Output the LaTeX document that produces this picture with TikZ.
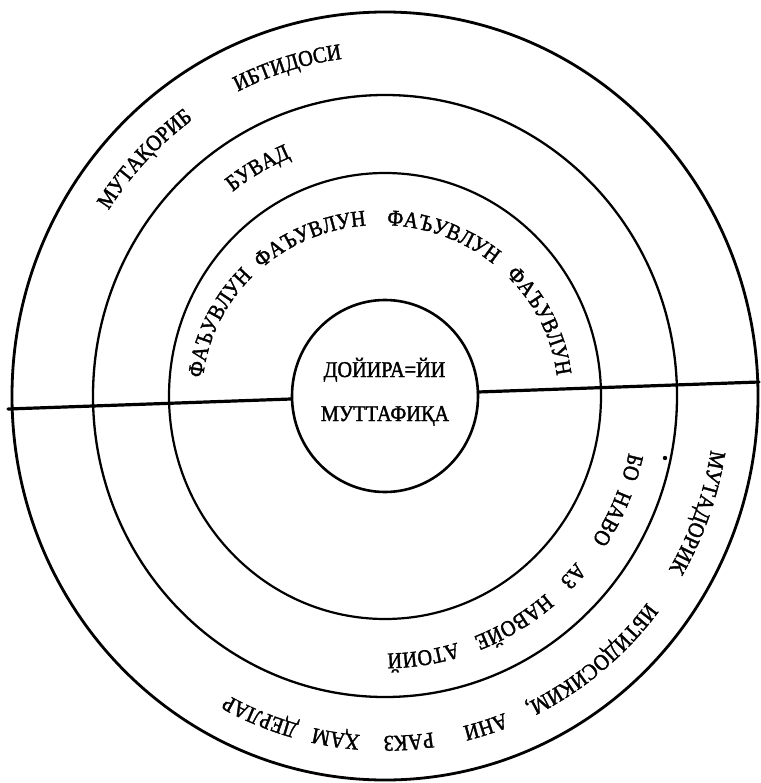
\documentclass[tikz,border=0pt]{standalone}
\usepackage{fontspec}
\setmainfont[FakeStretch=0.9,FakeBold=1.6]{Liberation Serif}
\usetikzlibrary{decorations.text,calc}
\newcommand\ringfont{\fontsize{22.5}{22.5}\selectfont}
% #1 centre, #2 rx, #3 ry, #4 middle angle, #5 half span, #6 text
\newcommand\arctext[6]{%
  \path[ringtext={#6}] ($(#1)+({#4+#5}:#2 and #3)$) arc[start angle={#4+#5}, end angle={#4-#5}, x radius=#2, y radius=#3];}
\begin{document}
\begin{tikzpicture}[x=1pt,y=1pt,
  ringtext/.style={decorate, decoration={text along path, text={|\ringfont|#1}, text align=center}},
  ring/.style={draw=black},
  divider/.style={line width=3.2pt, line cap=round}]
\useasboundingbox (0,0) rectangle (760,-783);
\coordinate (C) at (385,-396);
\coordinate (Ci) at (380,-396);
% circles
\draw[ring, line width=2.8pt] (C) ellipse [x radius=373, y radius=384];
\draw[ring, line width=2.3pt] (C) ellipse [x radius=292, y radius=301];
\draw[ring, line width=2.2pt] (C) ellipse [x radius=216, y radius=223];
\draw[ring, line width=2.6pt] (C) ellipse [x radius=93, y radius=96];
% divider
\coordinate (la) at (8,-409);
\coordinate (lb) at (291,-399);
\coordinate (ra) at (478,-392);
\coordinate (rb) at (759,-382);
\draw[divider] (la) -- (lb);
\draw[divider] (ra) -- (rb);
% centre
\node[anchor=base, inner sep=0pt, font=\ringfont] (t1) at (384.5,-377) {ДОЙИРА=ЙИ};
\node[anchor=base, inner sep=0pt, font=\ringfont] (t2) at (385,-421) {МУТТАФИҚА};
% outer ring
\arctext{C}{330}{340}{135.9}{40}{МУТАҚОРИБ}
\arctext{C}{330}{340}{106.8}{40}{ИБТИДОСИ}
\arctext{C}{330}{340}{-20.1}{40}{МУТАДОРИК}
\arctext{C}{330}{340}{-51.5}{40}{ИБТИДОСИКИМ,}
\arctext{C}{330}{340}{-72.8}{40}{АНИ}
\arctext{C}{330}{340}{-86}{40}{РАКЗ}
\arctext{C}{330}{340}{-98.3}{40}{ҲАМ}
\arctext{C}{330}{340}{-111.6}{40}{ДЕРЛАР}
% second ring
\arctext{C}{250}{257.5}{119.5}{45}{БУВАД}
\arctext{C}{250}{257.5}{-15.9}{45}{БО}
\arctext{C}{250}{257.5}{-28}{45}{НАВО}
\arctext{C}{250}{257.5}{-43.35}{45}{АЗ}
\arctext{C}{250}{257.5}{-60}{45}{НАВОЙЕ}
\arctext{C}{250}{257.5}{-81.5}{45}{АТОИЙ}
% third ring
\arctext{Ci}{178}{171}{155.5}{70}{ФАЪУВЛУН}
\arctext{Ci}{178}{171}{113.8}{70}{ФАЪУВЛУН}
\arctext{Ci}{178}{171}{68.5}{70}{ФАЪУВЛУН}
\arctext{Ci}{178}{171}{25.2}{70}{ФАЪУВЛУН}
% speck
\fill (665,-458) circle (2.2);
\end{tikzpicture}
\end{document}
